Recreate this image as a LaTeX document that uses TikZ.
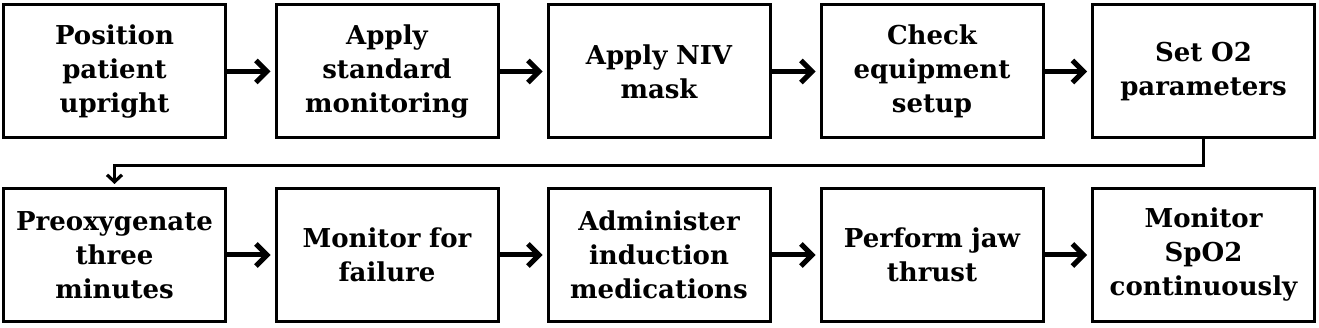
\documentclass[tikz,border=0pt]{standalone}
\usepackage{fontspec}
\setmainfont{DejaVu Serif}
\usetikzlibrary{arrows.meta}
\begin{document}
\begin{tikzpicture}[x=1pt,y=-1pt,
  stepbox/.style={draw=black, line width=3pt, fill=white, minimum width=222pt, minimum height=133pt,
    align=center, text width=216pt, inner sep=0pt,
    font=\fontsize{26}{34}\selectfont\bfseries},
  flow/.style={line width=5pt, -{Straight Barb[length=11pt,width=22pt,line width=5pt]}, shorten >=4pt},
  link/.style={line width=3.5pt, -{Straight Barb[length=7pt,width=15pt,line width=3.2pt]}, shorten >=3pt}
]
\useasboundingbox (0,0) rectangle (1319,328);
\fill[white] (0,0) rectangle (1319,328);
\node[stepbox] (a1) at (114.5,71.5) {Position\\patient\\upright};
\node[stepbox] (a2) at (387,71.5) {Apply\\standard\\monitoring};
\node[stepbox] (a3) at (659,71.5) {Apply NIV\\mask};
\node[stepbox] (a4) at (932,71.5) {Check\\equipment\\setup};
\node[stepbox] (a5) at (1203.5,71.5) {Set O2\\parameters};
\node[stepbox] (b1) at (114.5,255) {Preoxygenate\\three\\minutes};
\node[stepbox] (b2) at (387,255) {Monitor for\\failure};
\node[stepbox] (b3) at (659,255) {Administer\\induction\\medications};
\node[stepbox] (b4) at (932,255) {Perform jaw\\thrust};
\node[stepbox] (b5) at (1203.5,255) {Monitor\\SpO2\\continuously};
\draw[flow] (a1) -- (a2);
\draw[flow] (a2) -- (a3);
\draw[flow] (a3) -- (a4);
\draw[flow] (a4) -- (a5);
\draw[flow] (b1) -- (b2);
\draw[flow] (b2) -- (b3);
\draw[flow] (b3) -- (b4);
\draw[flow] (b4) -- (b5);
\draw[link] (a5.south) -- ++(0,26) -| (b1.north);
\end{tikzpicture}
\end{document}
